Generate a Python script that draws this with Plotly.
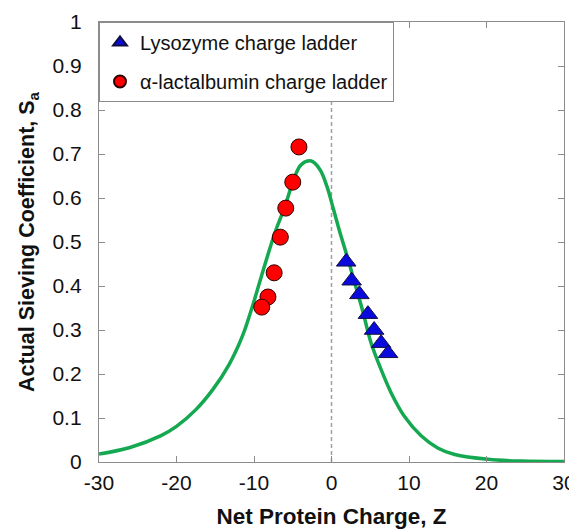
import plotly.graph_objects as go

# Lysozyme charge ladder (blue triangles)
lyso_z = [1.9, 2.6, 3.6, 4.7, 5.5, 6.4, 7.3]
lyso_s = [0.455, 0.412, 0.381, 0.336, 0.300, 0.270, 0.247]

# alpha-lactalbumin charge ladder (red circles)
lact_z = [-4.2, -5.0, -5.9, -6.6, -7.4, -8.2, -9.0]
lact_s = [0.716, 0.636, 0.577, 0.511, 0.430, 0.375, 0.352]

# model curve (green)
curve_z = [-30, -26, -22, -20, -17.5, -15.3, -13.2, -11.5, -10.2, -9.1, -7.3, -6, -4.8,
           -3.9, -2.6, -1.5, -0.6, 0.2, 1.1, 2.15, 2.8, 4, 5.1, 6.4, 7.7, 9.4, 11.6,
           13.7, 15.9, 20.2, 24.5, 30]
curve_s = [0.018, 0.033, 0.060, 0.081, 0.119, 0.165, 0.222, 0.286, 0.354, 0.419,
           0.521, 0.581, 0.646, 0.676, 0.684, 0.665, 0.627, 0.578, 0.521, 0.46,
           0.419, 0.345, 0.271, 0.21, 0.157, 0.104, 0.059, 0.032, 0.017, 0.006,
           0.002, 0.001]

x_ticks = [-30, -20, -10, 0, 10, 20, 30]
y_ticks = [0, 0.1, 0.2, 0.3, 0.4, 0.5, 0.6, 0.7, 0.8, 0.9, 1]
y_labels = ["0", "0.1", "0.2", "0.3", "0.4", "0.5", "0.6", "0.7", "0.8", "0.9", "1"]

FONT = "Liberation Sans, Arial, sans-serif"

fig = go.Figure()
fig.add_trace(go.Scatter(x=curve_z, y=curve_s, mode="lines",
                         line=dict(color="#14A850", width=3.5, shape="spline", smoothing=1.0),
                         showlegend=False, hoverinfo="skip"))
fig.add_trace(go.Scatter(x=lyso_z, y=lyso_s, mode="markers", name="Lysozyme charge ladder",
                         legendgroup="a",
                         marker=dict(symbol="triangle-up", size=17, color="#0A0ADC",
                                     line=dict(color="#101040", width=1))))
fig.add_trace(go.Scatter(x=lact_z, y=lact_s, mode="markers", name="α-lactalbumin charge ladder",
                         legendgroup="b",
                         marker=dict(symbol="circle", size=16, color="#FF0000",
                                     line=dict(color="#300000", width=1))))

fig.add_shape(type="line", x0=0, x1=0, y0=0, y1=1, xref="x", yref="y",
              line=dict(color="#a0a0a0", width=1.5, dash="4px,3px"), layer="below")

axis_common = dict(showline=True, linecolor="#8c8c8c", linewidth=1.3, mirror="ticks",
                   ticks="inside", ticklen=6, tickcolor="#8c8c8c", tickwidth=1.3,
                   showgrid=False, zeroline=False, automargin=False,
                   tickfont=dict(family=FONT, size=21, color="#111111"))

fig.update_layout(
    width=569, height=522,
    margin=dict(l=91, r=13, t=14, b=68),
    paper_bgcolor="white", plot_bgcolor="white",
    font=dict(family=FONT, color="#111111"),
    xaxis=dict(range=[-30, 30], tickvals=x_ticks, ticktext=[str(v) for v in x_ticks],
               title=dict(text="<b>Net Protein Charge, Z</b>", font=dict(family=FONT, size=22.5),
                          standoff=14),
               ticklabelstandoff=2, **axis_common),
    yaxis=dict(range=[0, 1], tickvals=y_ticks, ticktext=y_labels,
               title=dict(text="<b>Actual Sieving Coefficient, S<sub>a</sub></b>",
                          font=dict(family=FONT, size=21.5), standoff=11),
               ticklabelstandoff=12, **axis_common),
    legend=dict(x=0, y=1, xanchor="left", yanchor="top", bgcolor="white",
                bordercolor="#8c8c8c", borderwidth=1,
                font=dict(family=FONT, size=20, color="#111111"),
                traceorder="grouped", tracegroupgap=10, itemsizing="constant"),
)

fig.write_html("out.html")
